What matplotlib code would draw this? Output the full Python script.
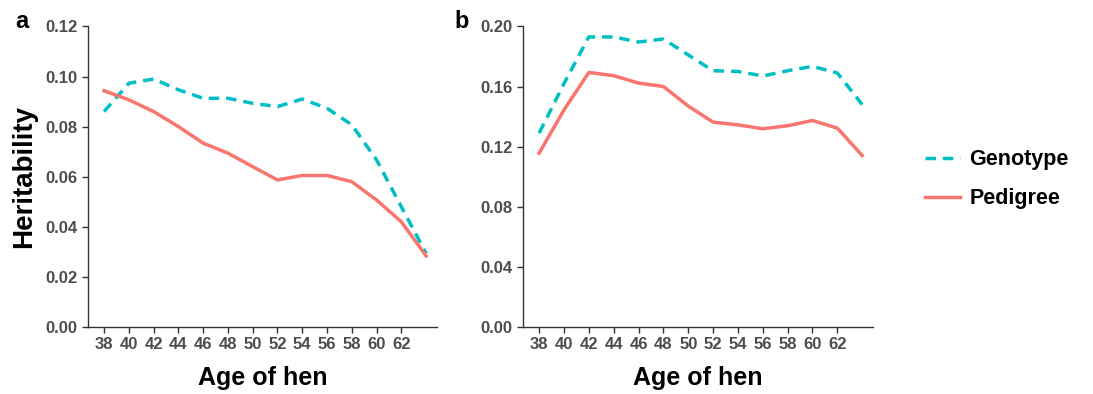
import matplotlib
matplotlib.use("Agg")
from matplotlib import pylab as plt
from matplotlib.ticker import FormatStrFormatter

plt.rcParams['font.family'] = ['Liberation Sans', 'DejaVu Sans']
plt.rcParams['font.weight'] = 'bold'

age = [38, 40, 42, 44, 46, 48, 50, 52, 54, 56, 58, 60, 62, 64]
tick_ages = [38, 40, 42, 44, 46, 48, 50, 52, 54, 56, 58, 60, 62]

geno_a = [0.086, 0.0973, 0.099, 0.0947, 0.0913, 0.0913, 0.0893, 0.088,
          0.091, 0.0873, 0.0807, 0.0667, 0.048, 0.0294]
ped_a = [0.0943, 0.0907, 0.086, 0.080, 0.0734, 0.0694, 0.064, 0.0587,
         0.0605, 0.0605, 0.058, 0.0507, 0.042, 0.0284]

geno_b = [0.129, 0.162, 0.193, 0.193, 0.1896, 0.1916, 0.181, 0.1705,
          0.170, 0.167, 0.1705, 0.1734, 0.169, 0.148]
ped_b = [0.1157, 0.1445, 0.1694, 0.1672, 0.1623, 0.160, 0.147, 0.1363,
         0.1345, 0.1319, 0.1339, 0.1374, 0.1323, 0.1141]

teal = "#00BFC4"
salmon = "#F8766D"
grey = "#4d4d4d"

fig = plt.figure(figsize=(10.93, 3.94), dpi=100)
ax_a = fig.add_axes([0.0805, 0.170, 0.319, 0.763])
ax_b = fig.add_axes([0.4785, 0.170, 0.320, 0.763])

def style_panel(ax, ymax, ystep):
    ax.set_xlim(36.7, 64.85)
    ax.set_ylim(0, ymax)
    ax.set_xticks(tick_ages)
    yt = [i * ystep for i in range(int(round(ymax / ystep)) + 1)]
    ax.set_yticks(yt)
    ax.yaxis.set_major_formatter(FormatStrFormatter('%.2f'))
    for s in ['top', 'right']:
        ax.spines[s].set_visible(False)
    for s in ['left', 'bottom']:
        ax.spines[s].set_color('#333333')
        ax.spines[s].set_linewidth(1.0)
    ax.tick_params(direction='out', length=4, width=1, colors='#333333',
                   labelcolor=grey, labelsize=12)
    for lab in ax.get_xticklabels() + ax.get_yticklabels():
        lab.set_fontweight('bold')
    ax.set_xlabel("Age of hen", fontsize=18, fontweight='bold', labelpad=10)

g1, = ax_a.plot(age, geno_a, color=teal, lw=2.5, linestyle=(0, (3, 2)), label="Genotype")
p1, = ax_a.plot(age, ped_a, color=salmon, lw=2.5, label="Pedigree")
ax_b.plot(age, geno_b, color=teal, lw=2.5, linestyle=(0, (3, 2)))
ax_b.plot(age, ped_b, color=salmon, lw=2.5)

style_panel(ax_a, 0.12, 0.02)
style_panel(ax_b, 0.20, 0.04)
ax_a.set_ylabel("Heritability", fontsize=20, fontweight='bold', labelpad=6)

fig.text(0.014, 0.93, "a", fontsize=17, fontweight='bold')
fig.text(0.416, 0.93, "b", fontsize=17, fontweight='bold')

fig.legend(handles=[g1, p1], loc='center left', bbox_to_anchor=(0.829, 0.545),
           frameon=False, handlelength=1.6, handletextpad=0.45,
           labelspacing=0.85, prop={'weight': 'bold', 'size': 15.5})

fig.savefig("out.png", dpi=100)
